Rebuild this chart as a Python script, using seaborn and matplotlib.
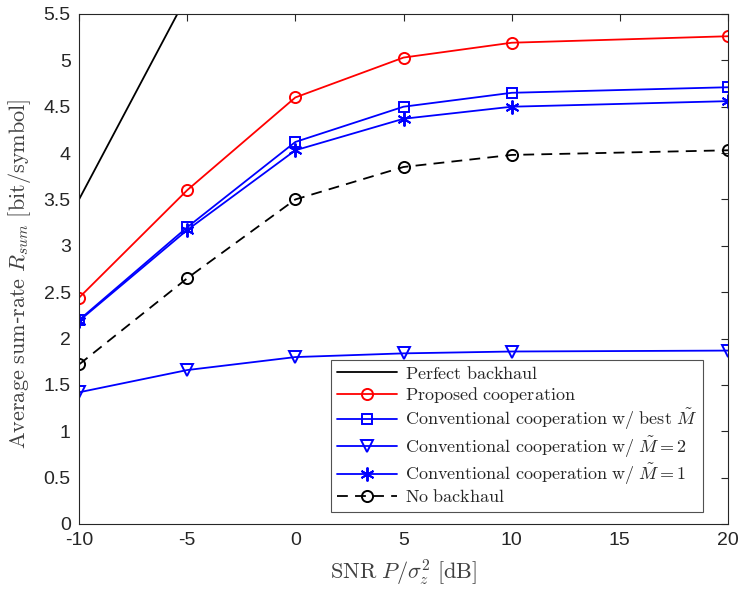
"""Average sum-rate vs SNR for cooperation schemes."""

import matplotlib
matplotlib.use("Agg")
import matplotlib.pyplot as plt
import seaborn as sns
import pandas as pd

snr_db = [-10, -5, 0, 5, 10, 20]
perfect_backhaul = [3.5, 5.7, 7.9, 10.1, 12.3, 16.7]
proposed = [2.44, 3.60, 4.60, 5.03, 5.19, 5.26]
conv_best = [2.20, 3.20, 4.12, 4.50, 4.65, 4.71]
conv_m2 = [1.42, 1.66, 1.80, 1.84, 1.86, 1.87]
conv_m1 = [2.19, 3.17, 4.03, 4.37, 4.50, 4.56]
no_backhaul = [1.72, 2.65, 3.50, 3.85, 3.98, 4.03]

series = [
    (r"$\mathrm{Perfect\ backhaul}$", perfect_backhaul, "black", None, "-", 8),
    (r"$\mathrm{Proposed\ cooperation}$", proposed, "red", "o", "-", 8),
    (r"$\mathrm{Conventional\ cooperation\ w/\ best}\ \tilde{M}$", conv_best, "blue", "s", "-", 7.5),
    (r"$\mathrm{Conventional\ cooperation\ w/}\ \tilde{M}=2$", conv_m2, "blue", "v", "-", 8.5),
    (r"$\mathrm{Conventional\ cooperation\ w/}\ \tilde{M}=1$", conv_m1, "blue", (6, 2, 0), "-", 10),
    (r"$\mathrm{No\ backhaul}$", no_backhaul, "black", "o", (0, (6, 4)), 8),
]

sns.set_style("white")
plt.rcParams["font.family"] = ["Liberation Sans", "DejaVu Sans"]
plt.rcParams["mathtext.fontset"] = "cm"
plt.rcParams["axes.unicode_minus"] = False

fig, ax = plt.subplots(figsize=(7.4, 5.9), dpi=100)
fig.subplots_adjust(left=0.1068, right=0.9838, top=0.9763, bottom=0.1119)

for label, vals, color, marker, ls, ms in series:
    df = pd.DataFrame({"snr": snr_db, "rate": vals})
    sns.lineplot(data=df, x="snr", y="rate", ax=ax, color=color, linestyle=ls,
                 linewidth=1.3, marker=marker, markersize=ms,
                 markerfacecolor="none", markeredgecolor=color,
                 markeredgewidth=1.4, label=label)

ax.set_xlim(-10, 20)
ax.set_ylim(0, 5.5)
ax.set_xticks([-10, -5, 0, 5, 10, 15, 20])
ax.set_xticklabels(["-10", "-5", "0", "5", "10", "15", "20"])
ax.set_yticks([i * 0.5 for i in range(12)])
ax.set_yticklabels(["0", "0.5", "1", "1.5", "2", "2.5", "3", "3.5", "4", "4.5", "5", "5.5"])
ax.tick_params(direction="in", length=5, width=0.8, top=True, right=True,
               labelsize=14, colors="#262626", pad=6)
for s in ax.spines.values():
    s.set_color("#262626")
    s.set_linewidth(0.8)

ax.set_xlabel(r"$\mathrm{SNR}\ P/\sigma_z^2\ \mathrm{[dB]}$", fontsize=16, color="#404040")
ax.set_ylabel(r"$\mathrm{Average\ sum}$-$\mathrm{rate}\ R_{sum}\ \mathrm{[bit/symbol]}$",
              fontsize=16, color="#404040")
ax.yaxis.set_label_coords(-0.071, 0.49)
ax.xaxis.set_label_coords(0.5, -0.066)

leg = ax.legend(loc="lower right", bbox_to_anchor=(0.9615, 0.0235), borderaxespad=0,
                fontsize=13, frameon=True, fancybox=False, handlelength=3.3,
                labelspacing=0.12, borderpad=0.33, handletextpad=0.45)
leg.get_frame().set_edgecolor("#262626")
leg.get_frame().set_linewidth(0.8)

fig.savefig("out.png", dpi=100)
